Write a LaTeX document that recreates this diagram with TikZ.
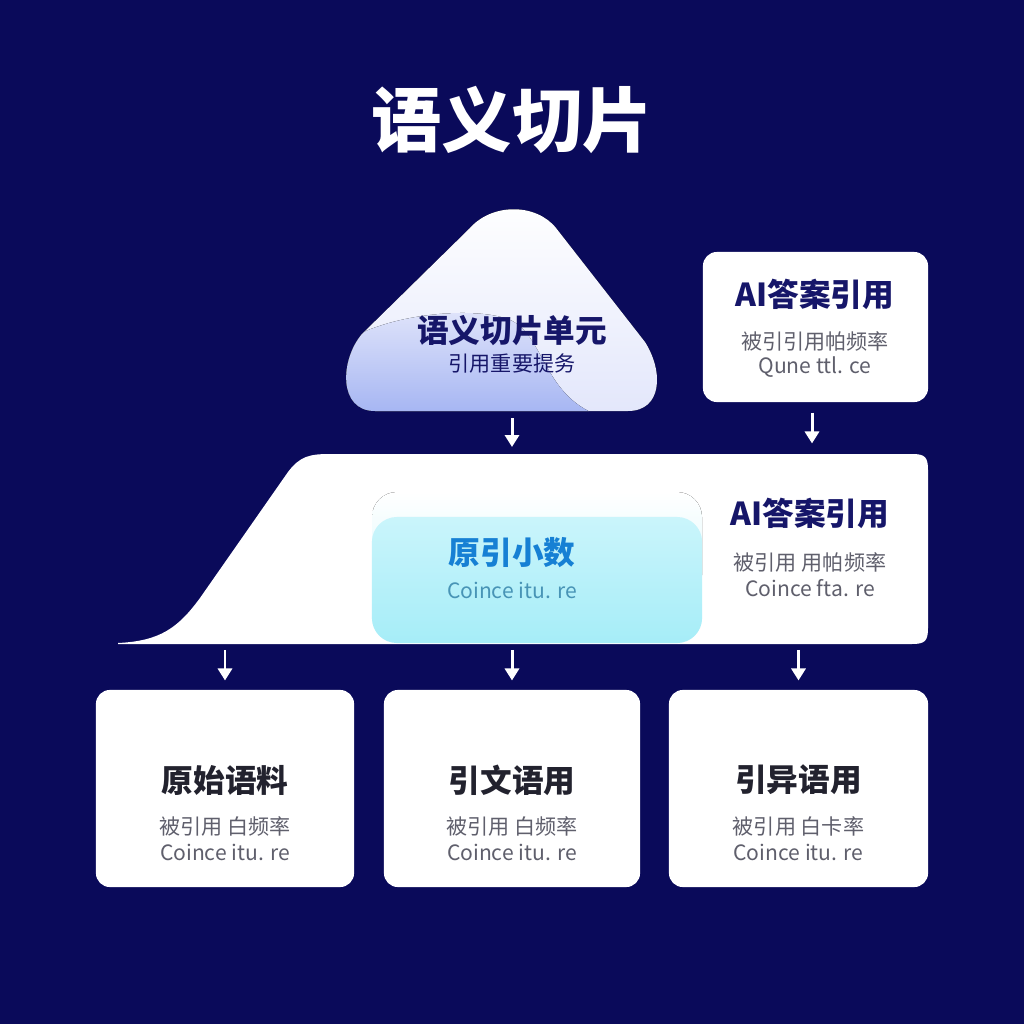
\documentclass[tikz,border=0pt]{standalone}
\usepackage{fontspec}
\setmainfont{Noto Sans CJK SC}
\usetikzlibrary{arrows.meta,positioning}
\definecolor{bgnavy}{RGB}{10,10,90}
\definecolor{navyink}{RGB}{22,22,105}
\definecolor{cardink}{RGB}{34,34,46}
\definecolor{greyink}{RGB}{95,95,108}
\definecolor{blueink}{RGB}{22,128,212}
\definecolor{cyanink}{RGB}{72,148,182}
\definecolor{lilaclo}{RGB}{164,180,242}
\definecolor{lilachi}{RGB}{226,230,251}
\definecolor{cyanlo}{RGB}{166,237,248}
\definecolor{cyanhi}{RGB}{202,245,251}
\begin{document}
\begin{tikzpicture}[x=0.01cm, y=-0.01cm,
card/.style={fill=white, rounded corners=0.14cm, inner sep=0pt, minimum height=1.97cm},
head/.style={font=\bfseries\fontsize{9}{11}\selectfont, text=cardink},
sub/.style={font=\fontsize{6}{7}\selectfont, text=greyink},
flow/.style={white, line width=0.85pt, -{Triangle[width=4pt,length=3.4pt]}}]
\useasboundingbox[fill=bgnavy] (0,0) rectangle (1024,1024);
\node[font=\bfseries\fontsize{20}{24}\selectfont, text=white] (title) at (512,120) {语义切片};
% cloud
\begin{scope}
\clip (375,411) -- (628,411) .. controls (662,411) and (664,372) .. (645,342) -- (556,228)
  .. controls (536,203) and (492,203) .. (470,228) -- (362,334)
  .. controls (340,360) and (338,411) .. (375,411) -- cycle;
\fill[top color=white, bottom color=lilachi] (330,200) rectangle (670,420);
\fill[top color=lilachi, bottom color=lilaclo] (338,348) .. controls (370,318) and (460,305) .. (505,318)
  .. controls (545,330) and (540,395) .. (600,416) -- (338,416) -- cycle;
\end{scope}
\coordinate (cloud base) at (512,411);
\node[font=\bfseries\fontsize{9}{11}\selectfont, text=navyink] (unit) at (512,331) {语义切片单元};
\node[sub, text=navyink] (unit sub) at (512,364) {引用重要提务};
% answer card
\node[card, minimum width=2.25cm, minimum height=1.5cm] (answer) at (815.5,327) {};
\node[head, text=navyink] (answer head) at (815,294) {AI答案引用};
\node[sub] (answer sub) at (815,341) {被引引用帕频率};
\node[sub] (answer en) at (815,367) {Qune ttl. ce};
% slab
\fill[white] (118,643) .. controls (160,641) and (178,628) .. (200,598)
  -- (288,472) .. controls (300,456) and (310,454) .. (330,454) -- (912,454)
  .. controls (925,454) and (928,457) .. (928,470) -- (928,628)
  .. controls (928,641) and (925,644) .. (912,644) -- (118,644) -- cycle;
\coordinate (slab n) at (512,454);
\coordinate (slab s) at (512,644);
\fill[rounded corners=0.25cm, top color=white, bottom color=cyanhi!70] (372,492) rectangle (702,600);
\node[rounded corners=0.25cm, top color=cyanhi, bottom color=cyanlo, minimum width=3.3cm, minimum height=1.26cm] (core) at (537,580) {};
\node[font=\bfseries\fontsize{9}{11}\selectfont, text=blueink] (core head) at (512,553) {原引小数};
\node[sub, text=cyanink] (core en) at (512,590) {Coince itu. re};
\node[head, text=navyink] (slab head) at (810,513) {AI答案引用};
\node[sub] (slab sub) at (810,562) {被引用 用帕频率};
\node[sub] (slab en) at (810,588) {Coince fta. re};
% bottom cards
\node[card, minimum width=2.58cm] (raw) at (225,788.5) {};
\node[card, minimum width=2.56cm] (cite) at (512,788.5) {};
\node[card, minimum width=2.59cm] (diff) at (798.5,788.5) {};
\foreach \c/\h/\s in {raw/原始语料/被引用 白频率, cite/引文语用/被引用 白频率, diff/引异语用/被引用 白卡率} {
  \node[head] (\c head) at ([yshift=0.085cm]\c.center) {\h};
  \node[sub] (\c sub) at ([yshift=-0.375cm]\c.center) {\s};
  \node[sub] (\c en) at ([yshift=-0.635cm]\c.center) {Coince itu. re};
}
\draw[flow, shorten <=2pt, shorten >=2pt] (cloud base) -- (slab n);
\draw[flow, shorten <=2.8pt, shorten >=3pt] (answer.south -| 812,0) -- (slab n -| 812,0);
\foreach \c in {raw, cite, diff}
  \draw[flow, shorten <=1.7pt, shorten >=2.5pt] (\c.north |- slab s) -- (\c.north);
\end{tikzpicture}
\end{document}
